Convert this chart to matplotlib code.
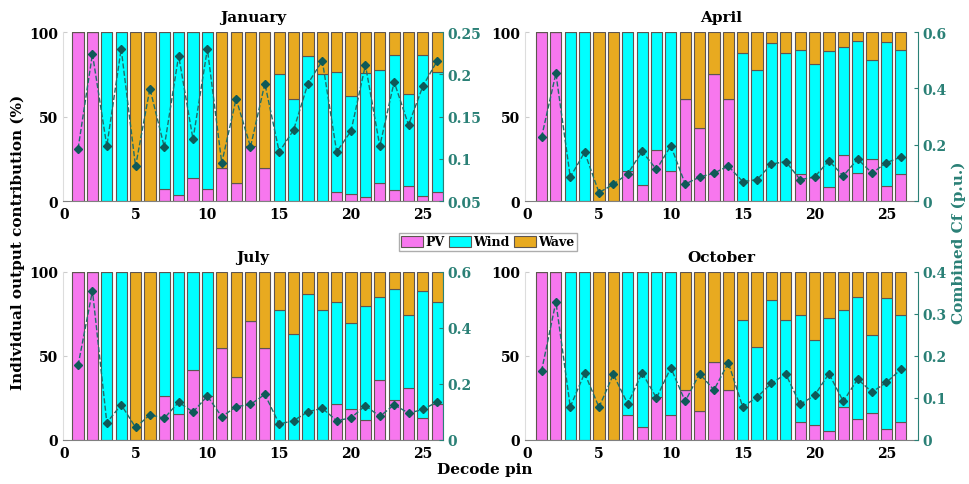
import numpy as np
import matplotlib
matplotlib.use("Agg")
import matplotlib.pyplot as plt

plt.rcParams['font.family'] = ['DejaVu Serif']
plt.rcParams['font.weight'] = 'bold'

# decode pins 1..26
pins = np.arange(1, 27)

# share of PV / Wind (%) per pin, wave = remainder
jan_pv = [100, 100, 0, 0, 0, 0, 7.1, 3.6, 13.6, 7.1, 19.5, 10.8, 32.7, 19.5,
          0, 0, 0, 0, 5.3, 4.3, 2.4, 10.8, 6.5, 8.9, 3.0, 5.3]
jan_wind = [0, 0, 100, 100, 0, 0, 92.9, 96.4, 86.4, 92.9, 0, 0, 0, 0,
            75.1, 60.6, 85.8, 75.1, 71.0, 57.8, 73.3, 66.9, 80.1, 54.4, 83.2, 71.0]
jan_cf = [0.112, 0.224, 0.115, 0.230, 0.091, 0.183, 0.114, 0.222, 0.123, 0.230,
          0.095, 0.171, 0.114, 0.189, 0.108, 0.134, 0.189, 0.216, 0.108, 0.133,
          0.211, 0.115, 0.191, 0.140, 0.186, 0.216]

apr_pv = [100, 100, 0, 0, 0, 0, 17.8, 9.5, 30.0, 17.8, 60.6, 43.2, 75.1, 60.6,
          0, 0, 0, 0, 16.2, 14.2, 8.3, 27.4, 16.6, 24.9, 8.9, 16.2]
apr_wind = [0, 0, 100, 100, 0, 0, 82.2, 90.5, 70.0, 82.2, 0, 0, 0, 0,
            87.6, 77.7, 93.5, 87.6, 73.0, 66.9, 80.5, 63.5, 77.9, 58.5, 85.2, 73.0]
apr_cf = [0.226, 0.453, 0.085, 0.173, 0.030, 0.059, 0.097, 0.176, 0.112, 0.196,
          0.060, 0.085, 0.099, 0.124, 0.069, 0.076, 0.131, 0.140, 0.076, 0.085,
          0.143, 0.089, 0.149, 0.099, 0.136, 0.156]

jul_pv = [100, 100, 0, 0, 0, 0, 26.1, 15.2, 41.5, 26.1, 54.7, 37.7, 70.8, 54.7,
          0, 0, 0, 0, 21.7, 18.6, 11.9, 35.6, 23.7, 30.8, 13.2, 21.7]
jul_wind = [0, 0, 100, 100, 0, 0, 73.9, 84.8, 58.5, 73.9, 0, 0, 0, 0,
            77.5, 62.8, 87.2, 77.5, 60.7, 51.2, 68.1, 49.8, 66.4, 43.5, 75.7, 60.7]
jul_cf = [0.267, 0.533, 0.062, 0.126, 0.045, 0.090, 0.078, 0.135, 0.100, 0.157,
          0.083, 0.119, 0.127, 0.163, 0.057, 0.069, 0.101, 0.113, 0.069, 0.079,
          0.123, 0.084, 0.126, 0.096, 0.109, 0.136]

oct_pv = [100, 100, 0, 0, 0, 0, 14.6, 7.7, 25.5, 14.6, 29.6, 17.2, 46.2, 29.6,
          0, 0, 0, 0, 10.7, 8.9, 5.5, 19.6, 12.5, 16.2, 6.5, 10.7]
oct_wind = [0, 0, 100, 100, 0, 0, 85.4, 92.3, 74.5, 85.4, 0, 0, 0, 0,
            71.3, 55.1, 83.4, 71.3, 64.0, 50.6, 67.4, 57.7, 72.9, 46.4, 77.9, 64.0]
oct_cf = [0.164, 0.329, 0.079, 0.159, 0.078, 0.156, 0.086, 0.160, 0.100, 0.172,
          0.092, 0.158, 0.119, 0.184, 0.079, 0.102, 0.135, 0.157, 0.085, 0.106,
          0.158, 0.092, 0.145, 0.114, 0.137, 0.168]

months = ["January", "April", "July", "October"]
pv_all = [jan_pv, apr_pv, jul_pv, oct_pv]
wind_all = [jan_wind, apr_wind, jul_wind, oct_wind]
cf_all = [jan_cf, apr_cf, jul_cf, oct_cf]
cf_lims = [(0.05, 0.25), (0, 0.6), (0, 0.6), (0, 0.4)]
cf_ticks = [[0.05, 0.1, 0.15, 0.2, 0.25], [0, 0.2, 0.4, 0.6], [0, 0.2, 0.4, 0.6],
            [0, 0.1, 0.2, 0.3, 0.4]]
cf_labels = [["0.05", "0.1", "0.15", "0.2", "0.25"], ["0", "0.2", "0.4", "0.6"],
             ["0", "0.2", "0.4", "0.6"], ["0", "0.1", "0.2", "0.3", "0.4"]]

c_pv = '#F777EE'
c_wind = '#00FFFF'
c_wave = '#E8AA20'
c_edge = '#5E5550'
c_line = '#1E6E6A'
c_mark = '#0E5A58'
c_axis = '#2A8076'

# axes boxes in pixels: left, right, top, bottom ; xlim
W, H = 970, 485
boxes = [(63, 443, 33, 202), (525, 918, 33, 202),
         (63, 443, 273, 441), (525, 918, 273, 441)]
xlims = [(-0.05, 26.4), (-0.15, 27.2), (-0.05, 26.4), (-0.15, 27.2)]

fig = plt.figure(figsize=(9.7, 4.85), dpi=100)

for i in range(4):
    l, r, t, b = boxes[i]
    ax = fig.add_axes([l / W, 1 - b / H, (r - l) / W, (b - t) / H])
    pv = np.array(pv_all[i])
    wind = np.array(wind_all[i])
    wave = 100 - pv - wind
    ax.bar(pins, pv, width=0.78, color=c_pv, edgecolor=c_edge, linewidth=0.8, label='PV')
    ax.bar(pins, wind, bottom=pv, width=0.78, color=c_wind, edgecolor=c_edge,
           linewidth=0.8, label='Wind')
    ax.bar(pins, wave, bottom=pv + wind, width=0.78, color=c_wave, edgecolor=c_edge,
           linewidth=0.8, label='Wave')
    ax.set_ylim(0, 100)
    ax.set_xlim(*xlims[i])
    ax.set_yticks([0, 50, 100])
    ax.set_xticks([0, 5, 10, 15, 20, 25])
    ax.tick_params(axis='both', direction='in', labelsize=10, length=3)
    ax.tick_params(axis='x', length=0, pad=4)
    ax.tick_params(axis='y', colors='#cccccc', labelcolor='black')
    for lab in ax.get_xticklabels() + ax.get_yticklabels():
        lab.set_fontweight('bold')
    ax.spines['top'].set_visible(False)
    ax.spines['right'].set_visible(False)
    ax.spines['left'].set_color('#dddddd')
    ax.spines['bottom'].set_color('#808080')
    ax.set_title(months[i], fontsize=11, fontweight='bold', pad=8)

    ax2 = ax.twinx()
    ax2.plot(pins, cf_all[i], linestyle='--', color=c_line, linewidth=1.0,
             marker='D', markersize=4, markerfacecolor=c_mark, markeredgecolor=c_mark)
    ax2.set_ylim(*cf_lims[i])
    ax2.set_yticks(cf_ticks[i])
    ax2.set_yticklabels(cf_labels[i], fontweight='bold')
    ax2.tick_params(axis='y', direction='in', colors=c_axis, labelsize=10, length=3)
    for s in ['top', 'left', 'bottom']:
        ax2.spines[s].set_visible(False)
    ax2.spines['right'].set_color(c_axis)
    if i == 0:
        handles, labels = ax.get_legend_handles_labels()

fig.legend(handles, labels, loc='center', bbox_to_anchor=(0.503, 0.499), ncol=3,
           frameon=True, fancybox=False, edgecolor='#999999',
           handlelength=1.7, handleheight=1.0, handletextpad=0.2, columnspacing=0.4,
           borderpad=0.2, borderaxespad=0, prop={'weight': 'bold', 'size': 9})

fig.text(0.018, 0.5, "Individual output contribution (%)", rotation=90,
         ha='center', va='center', fontsize=11, fontweight='bold')
fig.text(0.988, 0.5, "Combined Cf (p.u.)", rotation=90, ha='center', va='center',
         fontsize=11, fontweight='bold', color=c_axis)
fig.text(0.5, 0.03, "Decode pin", ha='center', va='center', fontsize=11,
         fontweight='bold')

fig.savefig("out.png", dpi=100)
